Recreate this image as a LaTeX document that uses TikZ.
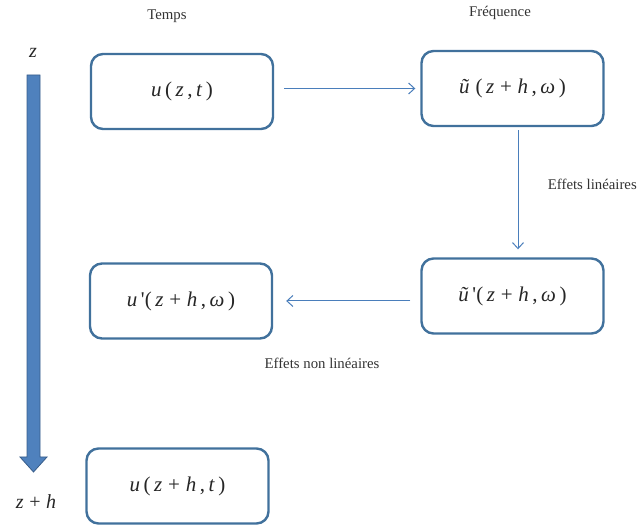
\documentclass[tikz,border=0pt]{standalone}
\usepackage{fontspec}
\setmainfont{Liberation Serif}
\usetikzlibrary{arrows.meta}
\definecolor{boxblue}{HTML}{41719C}
\definecolor{linkblue}{HTML}{4A7EBB}
\definecolor{zfill}{HTML}{4F81BD}
\definecolor{zedge}{HTML}{385D8A}
\newcommand{\iv}[1]{\textit{#1}}

\begin{document}
\begin{tikzpicture}[x=1pt, y=-1pt,
  state/.style={draw=boxblue, line width=2.4pt, rounded corners=12pt,
    minimum width=182pt, minimum height=75pt, fill=white,
    font=\fontsize{21}{23}\selectfont, text=black!85},
  lbl/.style={font=\fontsize{14.8}{16}\selectfont, text=black!80},
  var/.style={font=\fontsize{20}{22}\selectfont, text=black!85},
  flow/.style={-{Straight Barb[length=6pt,width=11pt]}, line width=1pt, linkblue},
  zarrow/.style={fill=zfill, draw=zedge, line width=0.8pt}
]
\useasboundingbox (0,0) rectangle (638,526);
\node[lbl] (temps) at (167,16) {Temps};
\node[lbl] (freqlbl) at (500,13) {Fréquence};
\node[state] (time) at (182,91.5) {\iv{u}\,(\,\iv{z}\,,\,\iv{t}\,)};
\node[state] (freq) at (512.5,88.5) {\iv{ũ}\;(\,\iv{z}\;+\;\iv{h}\,,\,\iv{ω}\,)};
\node[state] (freqlin) at (512.5,296) {\iv{ũ}\,\textquotesingle(\,\iv{z}\;+\;\iv{h}\,,\,\iv{ω}\,)};
\node[state] (timenl) at (181,301) {\iv{u}\,\textquotesingle(\,\iv{z}\;+\;\iv{h}\,,\,\iv{ω}\,)};
\node[state] (next) at (177.5,486) {\iv{u}\,(\,\iv{z}\;+\;\iv{h}\,,\,\iv{t}\,)};
\node[lbl, anchor=east, inner xsep=1pt] (lin) at (638,184) {Effets linéaires};
\node[lbl] (nonlin) at (322,363.5) {Effets non linéaires};
\node[var] (zlbl) at (33,53) {\iv{z}};
\node[var] (zhlbl) at (36,502) {\iv{z}\;+\;\iv{h}};
\draw[flow, shorten <=10pt, shorten >=5pt] (time.east |- freq.west) -- (freq.west);
\draw[flow, shorten <=3pt, shorten >=8pt] ([xshift=5.5pt]freq.south) -- ([xshift=5.5pt]freqlin.north);
\draw[flow, shorten <=10pt, shorten >=13pt] (freqlin.west |- timenl.east) -- (timenl.east);
\filldraw[zarrow] (27,75) -- (40,75) -- (40,457) -- (47,457) -- (33.5,472)
  -- (20,457) -- (27,457) -- cycle;
\end{tikzpicture}
\end{document}
